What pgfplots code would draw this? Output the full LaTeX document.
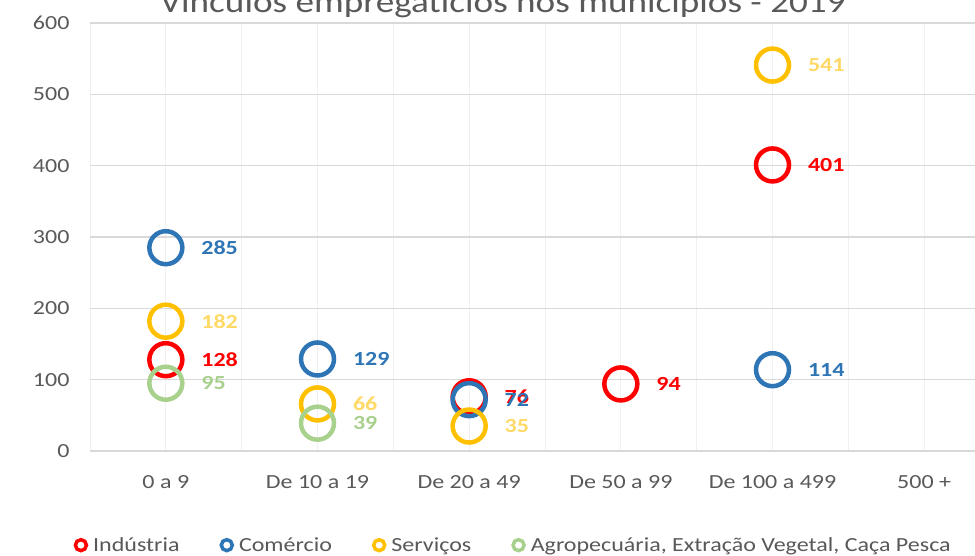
\documentclass[border=0pt]{standalone}
\usepackage{pgfplots}
\pgfplotsset{compat=1.18}
\usepackage{fontspec}
\setmainfont{Carlito}[FakeStretch=1.2]
\definecolor{cind}{HTML}{FF0000}
\definecolor{ccom}{HTML}{2E75B6}
\definecolor{cser}{HTML}{FFC000}
\definecolor{cserl}{HTML}{FFD966}
\definecolor{cagr}{HTML}{A9D18E}
\definecolor{ctxt}{HTML}{595959}
\begin{document}
\begin{tikzpicture}[x=1bp,y=1bp]
\begin{axis}[
  at={(90bp,105bp)}, anchor=south west,
  scale only axis, width=910bp, height=428bp,
  xmin=-0.5, xmax=5.5, ymin=0, ymax=600,
  xtick={0,1,2,3,4,5},
  xticklabels={0 a 9, De 10 a 19, De 20 a 49, De 50 a 99, De 100 a 499, 500 +},
  minor xtick={-0.5,0.5,1.5,2.5,3.5,4.5,5.5},
  ytick={0,100,200,300,400,500,600},
  xminorgrids=true, ymajorgrids=true, xmajorgrids=true,
  minor x grid style={draw=black!6, line width=1bp},
  major x grid style={draw=black!6, line width=1bp},
  major y grid style={draw=black!15, line width=1.2bp},
  axis line style={draw=none},
  major tick length=0pt, minor tick length=0pt,
  tick label style={font=\fontsize{20bp}{24bp}\selectfont, text=ctxt},
  /pgf/number format/assume math mode=true,
  yticklabel style={xshift=-17bp},
  xticklabel style={yshift=-21bp},
  clip=false,
  nodes near coords,
  every node near coord/.append style={anchor=west, xshift=30bp, font=\fontsize{20bp}{24bp}\selectfont\bfseries},
  legend columns=4,
  legend style={draw=none, at={(0.465,-0.22)}, anchor=center, font=\fontsize{20bp}{24bp}\selectfont, text=ctxt,
     /tikz/every odd column/.append style={column sep=3bp},
     /tikz/every even column/.append style={column sep=38bp}},
  legend image code/.code={\draw[#1,mark=none,line width=3.5bp] (0bp,0bp) circle (5.5bp);},
]
\addplot[only marks, draw=cind, mark=o, mark size=16.5bp, mark options={line width=4.5bp, draw=cind}, every node near coord/.append style={text=cind}]
  coordinates {(0,128) (2,76) (3,94) (4,401)};
\addlegendentry{Indústria}
\addplot[only marks, draw=ccom, mark=o, mark size=16.5bp, mark options={line width=4.5bp, draw=ccom}, every node near coord/.append style={text=ccom}]
  coordinates {(0,285) (1,129) (2,72) (4,114)};
\addlegendentry{Comércio}
\addplot[only marks, draw=cser, mark=o, mark size=16.5bp, mark options={line width=4.5bp, draw=cser}, every node near coord/.append style={text=cserl}]
  coordinates {(0,182) (1,66) (2,35) (4,541)};
\addlegendentry{Serviços}
\addplot[only marks, draw=cagr, mark=o, mark size=16.5bp, mark options={line width=4.5bp, draw=cagr}, every node near coord/.append style={text=cagr}]
  coordinates {(0,95) (1,39)};
\addlegendentry{Agropecuária, Extração Vegetal, Caça Pesca}
\end{axis}
\node[anchor=base, text=ctxt, font=\fontsize{31bp}{36bp}\selectfont] at (503bp,543bp) {Vínculos empregatícios nos municípios - 2019};
\pgfresetboundingbox
\useasboundingbox (0,0) rectangle (975bp,556bp);
\end{tikzpicture}
\end{document}
